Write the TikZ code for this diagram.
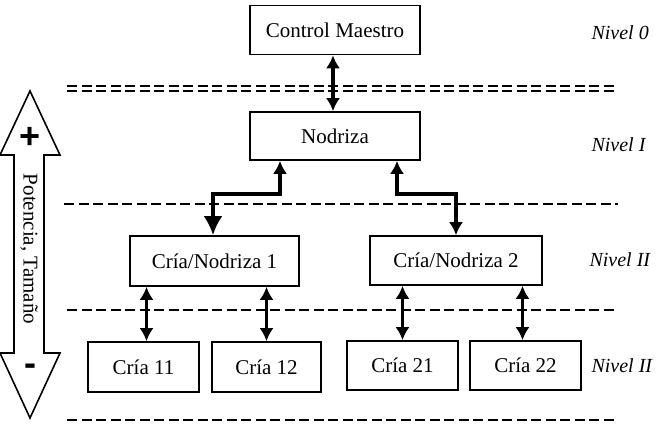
\documentclass[tikz,border=0pt]{standalone}
\usepackage{fontspec}
\setmainfont{Liberation Serif}
\newfontfamily\signfont{Liberation Sans}
\usetikzlibrary{arrows.meta}

\begin{document}
\begin{tikzpicture}[x=1pt, y=-1pt, >={Latex[length=13pt,width=14pt]},
  every node/.style={font=\fontsize{21}{23}\selectfont},
  box/.style={draw, line width=1.6pt, inner sep=0pt},
  link/.style={<->, line width=3.6pt},
  sep/.style={line width=1.4pt, dash pattern=on 10pt off 4.5pt},
  lvl/.style={anchor=west, font=\fontsize{20}{22}\selectfont\itshape},
  sign/.style={font=\fontsize{36}{36}\selectfont\signfont\bfseries}]
  \useasboundingbox (0,0) rectangle (656,428);
  % boxes
  \node[box, minimum width=170pt, minimum height=49pt] (cm) at (335,30) {Control Maestro};
  \node[box, minimum width=170pt, minimum height=48pt] (nod) at (335,136) {Nodriza};
  \node[box, minimum width=169pt, minimum height=50pt] (cn1) at (214.5,261) {Cría/Nodriza 1};
  \node[box, minimum width=172pt, minimum height=49pt] (cn2) at (456,260.5) {Cría/Nodriza 2};
  \node[box, minimum width=111pt, minimum height=50pt] (c11) at (143.5,367) {Cría 11};
  \node[box, minimum width=109pt, minimum height=50pt] (c12) at (266.5,367) {Cría 12};
  \node[box, minimum width=111pt, minimum height=49pt] (c21) at (402.5,365.5) {Cría 21};
  \node[box, minimum width=111pt, minimum height=49pt] (c22) at (525.5,365.5) {Cría 22};
  % levels
  \node[lvl] (l0) at (588,33) {Nivel 0};
  \node[lvl] (l1) at (588,145) {Nivel I};
  \node[lvl] (l2) at (586,260) {Nivel II};
  \node[lvl] (l3) at (588,366) {Nivel II};
  % separators
  \draw[sep] (67,86) -- (618,86);
  \draw[sep] (67,91) -- (618,91);
  \draw[sep] (64,204) -- (618,204);
  \draw[sep] (67,310) -- (618,310);
  \draw[sep] (67,420) -- (618,420);
  % links
  \draw[link] ([xshift=-2pt]cm.south) -- ([xshift=-2pt]nod.north);
  \draw[link, {Latex[length=13pt,width=14pt]}-{Latex[length=19pt,width=19pt]}]
    ([xshift=-55pt]nod.south) -- ++(0,33) -| ([xshift=-1.5pt]cn1.north);
  \draw[link] ([xshift=62pt]nod.south) -- ++(0,33) -| (cn2.north);
  \draw[link] ([xshift=3pt]cn1.south -| c11.north) -- ([xshift=3pt]c11.north);
  \draw[link] (cn1.south -| c12.north) -- (c12.north);
  \draw[link] (cn2.south -| c21.north) -- (c21.north);
  \draw[link] ([xshift=-3pt]cn2.south -| c22.north) -- ([xshift=-3pt]c22.north);
  % size arrow
  \draw[line width=1.6pt, line join=miter] (30,91) -- (60,155) -- (44,155) -- (44,353)
    -- (60,353) -- (30,418) -- (0,353) -- (14,353) -- (14,155) -- (0,155) -- cycle;
  \node[sign] (mas) at (30,138) {+};
  \node[sign] (menos) at (30,370) {-};
  \node[rotate=-90] (pot) at (29,249) {Potencia, Tamaño};
\end{tikzpicture}
\end{document}
